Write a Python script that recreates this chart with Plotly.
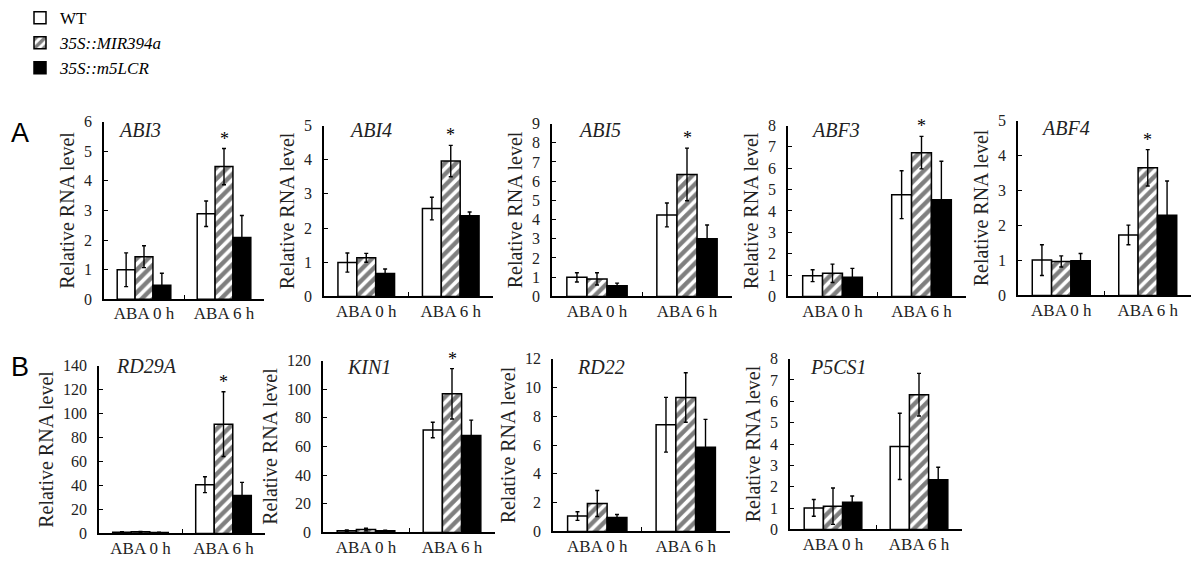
import plotly.graph_objects as go

# ---------------- data ----------------
genes = ["ABI3", "ABI4", "ABI5", "ABF3", "ABF4", "RD29A", "KIN1", "RD22", "P5CS1"]
categories = ["ABA 0 h", "ABA 6 h"]
genotypes = ["WT", "35S::MIR394a", "35S::m5LCR"]

# [ABA 0 h, ABA 6 h] per gene
wt_mean = [[1.00, 2.89], [0.99, 2.57], [0.99, 4.24], [0.97, 4.76], [1.01, 1.73],
           [1.0, 40.6], [1.2, 71.5], [1.07, 7.41], [1.01, 3.89]]
wt_err = [[0.57, 0.43], [0.28, 0.33], [0.24, 0.62], [0.28, 1.12], [0.44, 0.28],
          [0.4, 6.6], [0.5, 5.4], [0.30, 1.90], [0.39, 1.55]]
mir_mean = [[1.44, 4.48], [1.13, 3.96], [0.91, 6.35], [1.08, 6.73], [0.97, 3.65],
            [1.3, 91.1], [2.0, 96.8], [1.94, 9.30], [1.09, 6.31]]
mir_err = [[0.37, 0.61], [0.13, 0.46], [0.32, 1.37], [0.43, 0.76], [0.16, 0.52],
           [0.4, 27.0], [0.9, 17.6], [0.90, 1.72], [0.85, 1.00]]
lcr_mean = [[0.48, 2.09], [0.67, 2.36], [0.55, 3.00], [0.90, 4.53], [0.99, 2.29],
            [0.8, 31.6], [1.2, 67.6], [0.96, 5.85], [1.27, 2.33]]
lcr_err = [[0.40, 0.74], [0.13, 0.11], [0.14, 0.72], [0.41, 1.80], [0.21, 0.98],
           [0.3, 11.0], [0.4, 10.8], [0.22, 1.93], [0.30, 0.58]]

y_max = [6, 5, 9, 8, 5, 140, 120, 12, 8]
y_step = [1, 1, 1, 1, 1, 20, 20, 2, 1]
starred = ["ABI3", "ABI4", "ABI5", "ABF3", "ABF4", "RD29A", "KIN1"]

# ---------------- layout (pixels) ----------------
W, H = 1200, 567
x_dom_px = [(104, 264), (324, 493), (552, 732), (788, 966), (1018, 1191),
            (99, 265), (323, 495), (553, 730), (790, 962)]
y_dom_px = [(116, 296), (120, 293), (118, 293), (120, 293), (115, 292),
            (363, 533), (358, 532), (356, 531), (356, 529)]
label_px = [(116, 125), (347, 125), (576, 125), (809, 125), (1039, 123),
            (114, 363), (345, 365), (575, 365), (808, 365)]

SERIF = "Times New Roman, Liberation Serif, serif"
series = [
    (genotypes[0], "WT", wt_mean, wt_err,
     dict(color="white", line=dict(color="black", width=1.5))),
    (genotypes[1], "<i>35S::MIR394a</i>", mir_mean, mir_err,
     dict(color="white", line=dict(color="black", width=1.5),
          pattern=dict(shape="/", fgcolor="black", bgcolor="white", size=8, solidity=0.55))),
    (genotypes[2], "<i>35S::m5LCR</i>", lcr_mean, lcr_err,
     dict(color="black", line=dict(color="black", width=1.5))),
]

fig = go.Figure()
layout_axes = {}
annotations = []

for i, g in enumerate(genes):
    xa = "x" if i == 0 else f"x{i + 1}"
    ya = "y" if i == 0 else f"y{i + 1}"
    for key, label, means, errs, marker in series:
        fig.add_trace(go.Bar(
            x=categories, y=means[i], name=label, legendgroup=key,
            showlegend=(i == 0), xaxis=xa, yaxis=ya, marker=marker,
            error_y=dict(type="data", array=errs[i], color="black",
                         thickness=1.4, width=2),
        ))
    x0, x1 = x_dom_px[i]
    yt, yb = y_dom_px[i]
    xname = "xaxis" if i == 0 else f"xaxis{i + 1}"
    yname = "yaxis" if i == 0 else f"yaxis{i + 1}"
    layout_axes[xname] = dict(
        domain=[x0 / W, x1 / W], anchor=ya, type="category",
        range=[-0.5, 1.5], showline=True, linecolor="black", linewidth=1.5,
        ticks="inside", ticklen=5, tickcolor="black", tickwidth=1.2,
        tickson="boundaries", showgrid=False, zeroline=False,
        ticklabelstandoff=-2,
        tickfont=dict(family=SERIF, size=17, color="#222"), automargin=False,
    )
    layout_axes[yname] = dict(
        domain=[1 - yb / H, 1 - yt / H], anchor=xa, range=[0, y_max[i]],
        dtick=y_step[i], tick0=0, showline=True, linecolor="black", linewidth=1.5,
        ticks="inside", ticklen=4, tickcolor="black", tickwidth=1.2,
        showgrid=False, zeroline=False, ticklabelstandoff=7,
        tickfont=dict(family=SERIF, size=16, color="#222"),
        title=dict(text="Relative RNA level", font=dict(family=SERIF, size=20, color="#222"),
                   standoff=4),
        automargin=False,
    )
    lx, ly = label_px[i]
    annotations.append(dict(
        xref="paper", yref="paper", x=lx / W, y=1 - ly / H, xanchor="left", yanchor="middle",
        text=f"<i>{g}</i>", showarrow=False, font=dict(family=SERIF, size=20, color="#222"),
    ))
    if g in starred:
        annotations.append(dict(
            xref=xa, yref=ya, x=categories[1], y=mir_mean[i][1] + mir_err[i][1],
            xanchor="center", yanchor="bottom", text="*", showarrow=False, yshift=-2,
            font=dict(family=SERIF, size=18, color="black"),
        ))

for letter, px, py in [("A", 20, 128), ("B", 20, 364)]:
    annotations.append(dict(
        xref="paper", yref="paper", x=px / W, y=1 - py / H, xanchor="center", yanchor="middle",
        text=letter, showarrow=False, font=dict(family="Liberation Sans, Arial, sans-serif", size=27, color="black"),
    ))

fig.update_layout(
    width=W, height=H, margin=dict(l=0, r=0, t=0, b=0),
    paper_bgcolor="white", plot_bgcolor="white",
    barmode="group", bargap=0.33, bargroupgap=0,
    showlegend=True,
    legend=dict(x=20 / W, y=1 + 7 / H, xanchor="left", yanchor="top",
                font=dict(family=SERIF, size=17, color="black"),
                bgcolor="rgba(0,0,0,0)", tracegroupgap=0, itemwidth=30),
    annotations=annotations,
    **layout_axes,
)

fig.write_html("out.html", config={"displayModeBar": False},
               post_script="document.body.style.margin='0';")
